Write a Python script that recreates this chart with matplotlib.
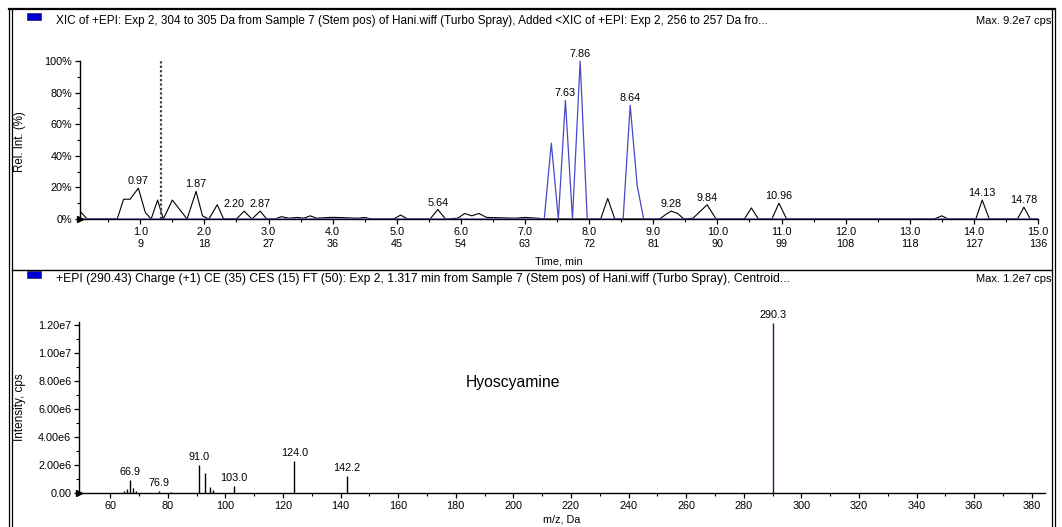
import numpy as np
import matplotlib
matplotlib.use("Agg")
import matplotlib.pyplot as plt
from matplotlib.lines import Line2D
from matplotlib.patches import Rectangle

plt.rcParams["font.family"] = ["Liberation Sans", "DejaVu Sans"]

W, H = 1062, 527

# XIC trace 304-305 Da (time in min, relative intensity in %)
t_xic1 = [0.06, 0.17, 0.64, 0.74, 0.84, 0.97, 1.08, 1.17, 1.27, 1.36, 1.50, 1.73,
          1.87, 1.97, 2.07, 2.20, 2.30, 2.50, 2.62, 2.74, 2.87, 2.97, 3.10, 3.20,
          3.32, 3.45, 3.55, 3.65, 3.75, 3.95, 4.05, 4.40, 4.50, 4.60, 4.95, 5.06,
          5.17, 5.52, 5.64, 5.76, 5.95, 6.06, 6.17, 6.28, 6.40, 6.85, 7.00, 7.20,
          7.30, 8.18, 8.29, 8.40, 9.10, 9.20, 9.28, 9.38, 9.48, 9.62, 9.84, 9.98,
          10.42, 10.53, 10.64, 10.85, 10.96, 11.08, 13.38, 13.50, 13.60, 14.03,
          14.13, 14.24, 14.68, 14.78, 14.88, 15.0]
rel_xic1 = [5, 0, 0, 12.5, 12.5, 19.5, 4, 0, 12, 0, 12, 0,
            17.5, 2, 0, 9, 0, 0, 5, 0, 5, 0, 0, 1.5,
            0.5, 1, 0.5, 2, 0.5, 1, 1, 0.5, 1, 0, 0, 2.5,
            0, 0, 6, 0, 0.5, 3.5, 2, 3.5, 1, 0.5, 1, 0.5,
            0, 0, 13, 0, 0, 3, 5, 3.5, 0, 0.5, 9, 0,
            0, 7, 0, 0, 10, 0, 0, 2, 0, 0,
            12, 0, 0, 7.5, 0, 0]

# added XIC trace 256-257 Da
t_xic2 = [0.06, 7.30, 7.41, 7.52, 7.63, 7.74, 7.86, 7.97, 8.53, 8.64, 8.75, 8.85, 15.0]
rel_xic2 = [0, 0, 48, 0, 75, 0, 100, 0, 0, 72, 21, 0, 0]

peak_times = [0.97, 1.87, 2.20, 2.87, 5.64, 7.63, 7.86, 8.64, 9.28, 9.84, 10.96, 14.13, 14.78]
time_ticks = [1.0, 2.0, 3.0, 4.0, 5.0, 6.0, 7.0, 8.0, 9.0, 10.0, 11.0, 12.0, 13.0, 14.0, 15.0]
scan_ticks = [9, 18, 27, 36, 45, 54, 63, 72, 81, 90, 99, 108, 118, 127, 136]
sel_time = 1.317

# product ion spectrum at 1.317 min
mz = [64.9, 65.9, 66.9, 67.8, 69.0, 76.9, 81.0, 91.0, 92.9, 94.6, 95.8, 103.0, 124.0, 142.2, 290.3]
intensity = [0.15e6, 0.25e6, 0.9e6, 0.35e6, 0.15e6, 0.15e6, 0.1e6, 2.0e6, 1.45e6, 0.4e6,
             0.2e6, 0.5e6, 2.3e6, 1.2e6, 1.21e7]
mz_labels = [66.9, 76.9, 91.0, 103.0, 124.0, 142.2, 290.3]
int_ticks = [0, 2e6, 4e6, 6e6, 8e6, 1.0e7, 1.2e7]
int_ticklabels = ["0.00", "2.00e6", "4.00e6", "6.00e6", "8.00e6", "1.00e7", "1.20e7"]

blue = "#4848c8"


def fx(px):
    return px / W


def fy(py):
    return 1 - py / H


def box(l, t, r, b):
    return [fx(l), fy(b), (r - l) / W, (b - t) / H]


fig = plt.figure(figsize=(W / 100, H / 100), dpi=100)
fig.patch.set_facecolor("white")

# window frame
for x in (9, 12, 1052, 1055):
    fig.add_artist(Line2D([fx(x), fx(x)], [fy(9), fy(527)], transform=fig.transFigure,
                          color="black", lw=0.9))
fig.add_artist(Line2D([fx(9), fx(1055)], [fy(9), fy(9)], transform=fig.transFigure,
                      color="black", lw=1.6))
fig.add_artist(Line2D([fx(12), fx(1052)], [fy(270), fy(270)], transform=fig.transFigure,
                      color="black", lw=1.0))

# panel headers
for top, txt, mx, fs in [(13, "XIC of +EPI: Exp 2, 304 to 305 Da from Sample 7 (Stem pos) of Hani.wiff "
                              "(Turbo Spray), Added <XIC of +EPI: Exp 2, 256 to 257 Da fro...",
                          "Max. 9.2e7 cps", 8.5),
                         (271, "+EPI (290.43) Charge (+1) CE (35) CES (15) FT (50): Exp 2, 1.317 min from "
                               "Sample 7 (Stem pos) of Hani.wiff (Turbo Spray), Centroid...",
                          "Max. 1.2e7 cps", 8.75)]:
    fig.add_artist(Rectangle((fx(27), fy(top + 7)), 14 / W, 7 / H, transform=fig.transFigure,
                             facecolor="#0000d0", edgecolor="#202060", lw=0.5))
    fig.text(fx(56), fy(top + 8), txt, fontsize=fs, ha="left", va="center")
    fig.text(fx(1051), fy(top + 8), mx, fontsize=8.0, ha="right", va="center")

# chromatogram
ax1 = fig.add_axes(box(80, 61, 1038, 219))
ax1.plot(t_xic1, rel_xic1, color="black", lw=0.8, zorder=2)
ax1.plot(t_xic2, rel_xic2, color=blue, lw=0.9, zorder=3)
ax1.axvline(sel_time, color="#404040", lw=1.6, ls=(0, (1, 1)), zorder=4)
ax1.set_xlim(0.06, 15.0)
ax1.set_ylim(0, 100)

label_shift = {2.20: (17, -4)}
for t in peak_times:
    h = max(np.interp(t, t_xic1, rel_xic1), np.interp(t, t_xic2, rel_xic2))
    dx, dy = label_shift.get(t, (0, 2))
    ax1.annotate(f"{t:.2f}", (t, h), xytext=(dx, dy), textcoords="offset pixels",
                 ha="center", va="bottom", fontsize=7.8)

ax1.set_xticks(time_ticks)
ax1.set_xticklabels([f"{a:.1f}\n{b}" for a, b in zip(time_ticks, scan_ticks)],
                    linespacing=1.35)
ax1.set_xticks(np.arange(0.5, 15, 1.0), minor=True)
ax1.set_yticks([0, 20, 40, 60, 80, 100])
ax1.set_yticklabels(["0%", "20%", "40%", "60%", "80%", "100%"])
ax1.set_yticks(np.arange(10, 100, 20), minor=True)
ax1.text(0.5, (219 - 262) / 158, "Time, min", transform=ax1.transAxes,
         ha="center", va="center", fontsize=7.8)
fig.text(fx(20), fy(142), "Rel. Int. (%)", rotation=90, ha="center", va="center", fontsize=8.3)

# product ion spectrum
ax2 = fig.add_axes(box(79, 322, 1045, 493))
ax2.vlines(mz, 0, intensity, colors=["#1a1a70" if m == 290.3 else "black" for m in mz], lw=1.0)
ax2.set_xlim(49.2, 384.6)
ax2.set_ylim(0, 1.22e7)
for m in mz_labels:
    h = intensity[mz.index(m)]
    ax2.annotate(f"{m:.1f}", (m, h), xytext=(0, 3), textcoords="offset pixels",
                 ha="center", va="bottom", fontsize=7.8)

ax2.set_xticks(np.arange(60, 381, 20))
ax2.set_xticks(np.arange(70, 381, 20), minor=True)
ax2.set_yticks(int_ticks)
ax2.set_yticklabels(int_ticklabels)
ax2.set_yticks(np.arange(1e6, 1.2e7, 2e6), minor=True)
ax2.text(0.5, (493 - 520) / 171, "m/z, Da", transform=ax2.transAxes,
         ha="center", va="center", fontsize=7.8)
ax2.text(0.449, 0.649, "Hyoscyamine", transform=ax2.transAxes, ha="center", va="center",
         fontsize=11.3)
fig.text(fx(20), fy(407), "Intensity, cps", rotation=90, ha="center", va="center", fontsize=8.5)

for ax in (ax1, ax2):
    ax.set_facecolor("none")
    ax.spines["top"].set_visible(False)
    ax.spines["right"].set_visible(False)
    for s in ("left", "bottom"):
        ax.spines[s].set_linewidth(1.0)
    ax.tick_params(which="major", length=3.5, width=0.9, labelsize=7.8, pad=2)
    ax.tick_params(which="minor", length=2, width=0.8)
    # origin marker
    ax.plot([ax.get_xlim()[0]], [0], marker=">", color="black", ms=5, clip_on=False, zorder=5)

fig.savefig("out.png", dpi=100)
